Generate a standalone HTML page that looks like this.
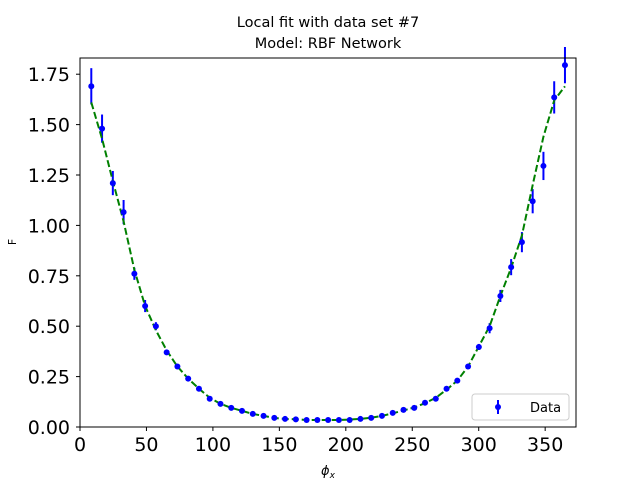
<!DOCTYPE html>
<html><head><meta charset="utf-8"><style>
body{margin:0;background:#fff}
svg text{font-family:"DejaVu Sans","Liberation Sans",sans-serif}
</style></head><body>
<svg id="chart" width="640" height="480" xmlns="http://www.w3.org/2000/svg">
<rect width="640" height="480" fill="#fff"/>
<text x="328" y="27" text-anchor="middle" font-size="14.5">Local fit with data set #7</text>
<text x="328" y="48" text-anchor="middle" font-size="14.5">Model: RBF Network</text>
<g id="plot"></g>
<text x="328" y="475" text-anchor="middle" font-size="13" font-style="italic">ϕ<tspan font-size="9" dy="3">x</tspan></text>
<text x="16" y="242" text-anchor="middle" font-size="11" transform="rotate(-90 16 242)">F</text>
<g>
<rect x="472" y="394" width="97" height="26" rx="3" fill="#fff" stroke="#ccc"/>
<line x1="498" y1="400" x2="498" y2="414" stroke="#00f" stroke-width="2"/>
<circle cx="498" cy="407" r="3" fill="#00f"/>
<text x="530" y="412" font-size="13">Data</text>
</g>
</svg>
<script>
const xs=[8.5,16.6,24.7,32.8,40.9,49,57.1,65.2,73.3,81.4,89.5,97.6,105.7,113.8,121.9,130,138.1,146.2,154.3,162.4,170.5,178.6,186.7,194.8,202.9,211,219.1,227.2,235.3,243.4,251.5,259.6,267.7,275.8,283.9,292,300.1,308.2,316.3,324.4,332.5,340.6,348.7,356.8,364.9];
const ys=[1.69,1.48,1.21,1.066,0.76,0.60,0.50,0.37,0.30,0.24,0.19,0.14,0.115,0.095,0.08,0.065,0.055,0.045,0.04,0.038,0.035,0.035,0.035,0.035,0.035,0.04,0.045,0.055,0.07,0.085,0.095,0.12,0.14,0.19,0.23,0.30,0.397,0.49,0.65,0.793,0.917,1.12,1.295,1.635,1.795];
const errs=[0.09,0.07,0.06,0.06,0.03,0.03,0.02,0.01,0.01,0.01,0.01,0.01,0.01,0.01,0.01,0.01,0.01,0.01,0.01,0.01,0.01,0.01,0.01,0.01,0.01,0.01,0.01,0.01,0.01,0.01,0.01,0.01,0.01,0.01,0.01,0.01,0.015,0.025,0.03,0.04,0.05,0.06,0.07,0.08,0.09];
const fit=[1.61,1.43,1.22,1.02,0.78,0.60,0.48,0.38,0.30,0.24,0.19,0.145,0.115,0.095,0.08,0.065,0.055,0.045,0.04,0.038,0.035,0.035,0.035,0.035,0.037,0.04,0.046,0.055,0.068,0.082,0.097,0.118,0.145,0.185,0.23,0.30,0.40,0.50,0.65,0.79,0.95,1.20,1.44,1.62,1.69];
const xTicks=[0,50,100,150,200,250,300,350];
const yTicks=[0,0.25,0.5,0.75,1.0,1.25,1.5,1.75];
const L=80,R=576,T=58,B=427,xmin=0,xmax=373.2,ymin=0,ymax=1.8304;
const sx=v=>L+(v-xmin)/(xmax-xmin)*(R-L);
const sy=v=>B-(v-ymin)/(ymax-ymin)*(B-T);
const NS='http://www.w3.org/2000/svg';
const g=document.getElementById('plot');
function mk(t,a){const e=document.createElementNS(NS,t);for(const k in a)e.setAttribute(k,a[k]);g.appendChild(e);return e;}
xTicks.forEach(v=>{
 const l=mk('line',{x1:sx(v),x2:sx(v),y1:B,y2:B+4,stroke:'#000'});
 
 
 const t=mk('text',{x:sx(v),y:B+24,'text-anchor':'middle','font-size':'19'});
 t.textContent=v;
 
 
});
yTicks.forEach(v=>{
 const l=mk('line',{x1:L-4,x2:L,y1:sy(v),y2:sy(v),stroke:'#000'});
 
 
 const t=mk('text',{x:L-10,y:sy(v)+7,'text-anchor':'end','font-size':'19'});
 t.textContent=v.toFixed(2);
 
 
});
xs.forEach((x,i)=>{
 const l=mk('line',{x1:sx(x),x2:sx(x),y1:sy(ys[i]-errs[i]),y2:sy(ys[i]+errs[i]),stroke:'#00f','stroke-width':2});
 
 
});
const fl=mk('polyline',{points:xs.map((x,i)=>sx(x)+','+sy(fit[i])).join(' '),fill:'none',stroke:'#008000','stroke-width':2,'stroke-dasharray':'7,3'});


xs.forEach((x,i)=>{
 const c=mk('circle',{cx:sx(x),cy:sy(ys[i]),r:3,fill:'#00f'});
 
 
});
const fr=mk('rect',{x:L,y:T,width:R-L,height:B-T,fill:'none',stroke:'#000','stroke-width':1});


</script>
</body></html>
